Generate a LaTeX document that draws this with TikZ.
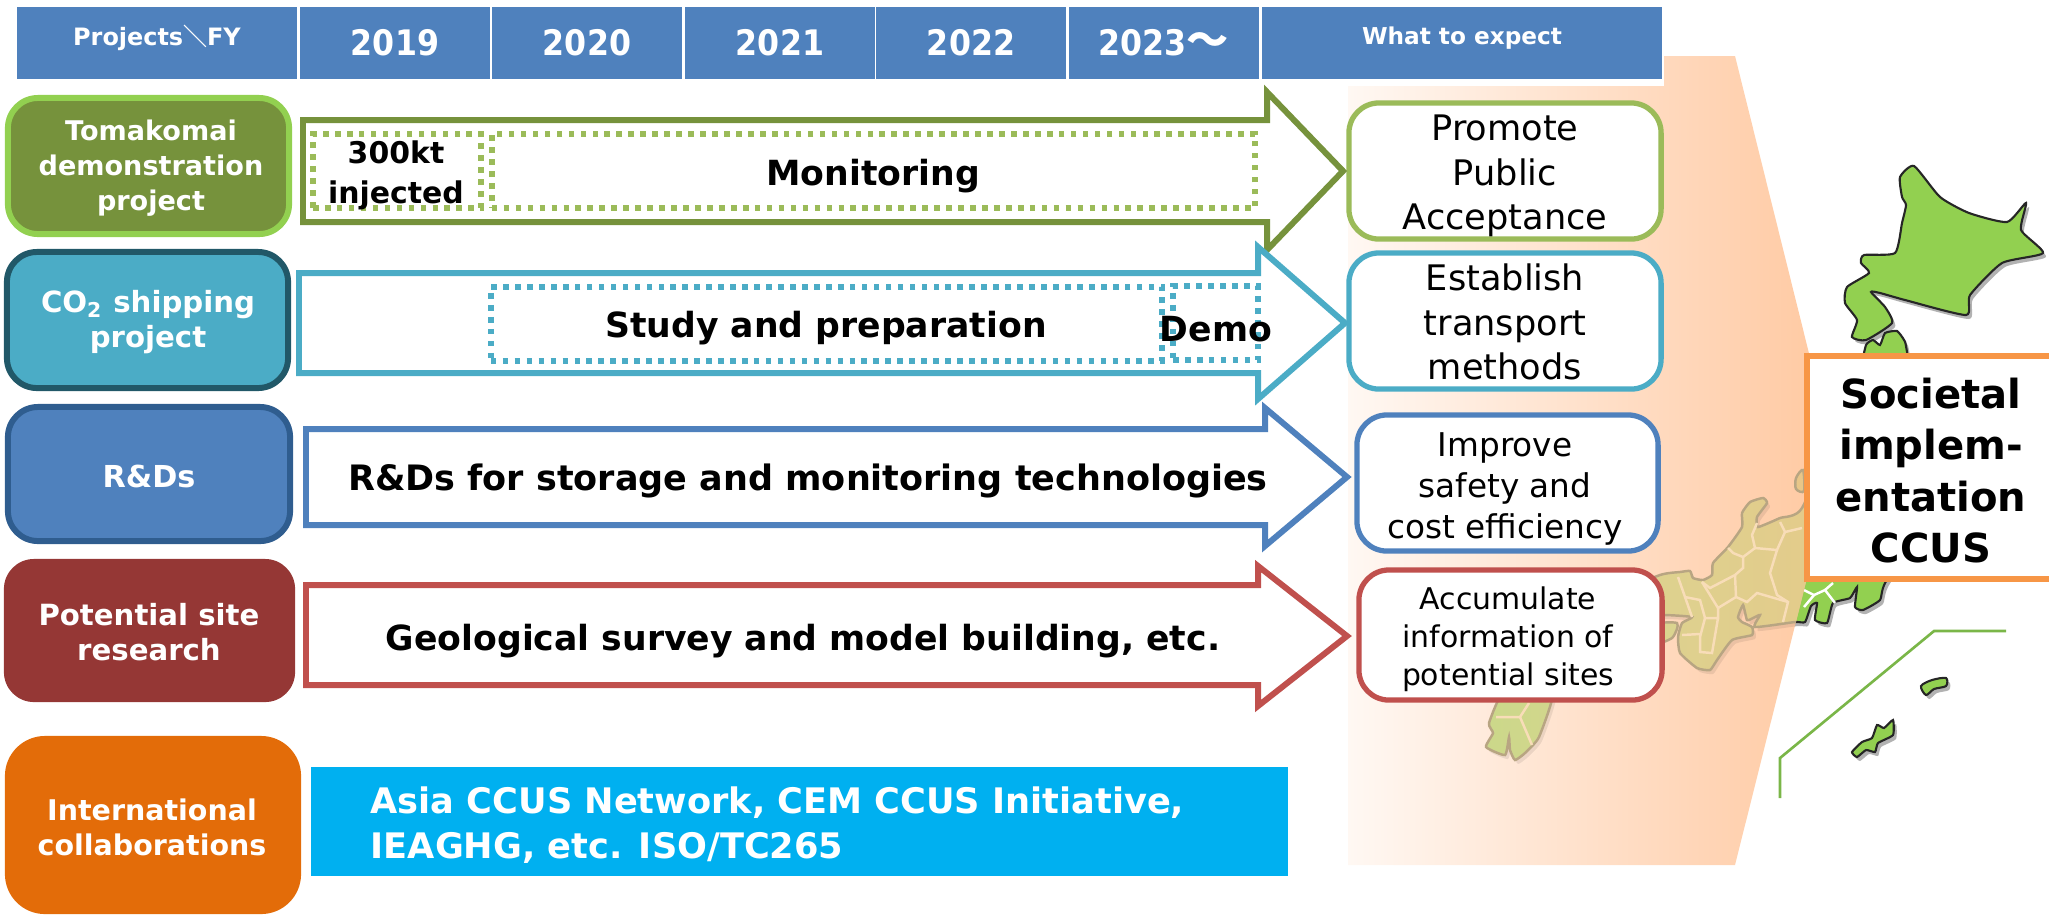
\documentclass[tikz,border=0pt]{standalone}
\usepackage{fontspec}
\setmainfont{DejaVu Sans}
\newfontfamily\jpfont{Noto Sans CJK JP}
\newfontfamily\yearfont{DejaVu Sans Condensed}
\usepackage{tikz}
\usetikzlibrary{positioning}

\definecolor{hdblue}{HTML}{4F81BD}
\definecolor{tomafill}{HTML}{76923C}
\definecolor{tomaline}{HTML}{92D050}
\definecolor{tomadot}{HTML}{9BBB59}
\definecolor{shipfill}{HTML}{4BACC6}
\definecolor{shipline}{HTML}{215868}
\definecolor{rdline}{HTML}{2F5D8F}
\definecolor{sitefill}{HTML}{953735}
\definecolor{siteline}{HTML}{C0504D}
\definecolor{intlfill}{HTML}{E36C09}
\definecolor{barblue}{HTML}{00B0F0}
\definecolor{socline}{HTML}{F79646}
\definecolor{mapgreen}{HTML}{92D050}
\definecolor{insetgreen}{HTML}{7AB648}
\definecolor{peachl}{HTML}{FFF8F3}
\definecolor{peachm}{HTML}{FEE6D6}
\definecolor{peachr}{HTML}{FFC8A0}
\definecolor{tanl}{HTML}{DBD490}
\definecolor{tanr}{HTML}{E8C688}
\definecolor{kyul}{HTML}{CBD88A}
\definecolor{kyur}{HTML}{D2D68C}
\definecolor{tanedge}{HTML}{B8A582}
\definecolor{tanpref}{HTML}{F8DDB8}

\newcommand{\fs}[2]{\fontsize{#1pt}{#2pt}\selectfont}

\tikzset{
    hdcell/.style={fill=hdblue, text=white, font=\bfseries\fs{6.6}{8}, minimum height=0.71cm, inner sep=0pt},
    yearcell/.style={hdcell, minimum width=1.90cm, font=\yearfont\bfseries\fs{10}{12}},
    prjbox/.style={rounded corners=0.3cm, line width=1.7pt, minimum width=2.81cm, minimum height=1.36cm, inner sep=0pt},
    prjtext/.style={text=white, font=\bfseries\fs{#1}{10}, align=center, inner sep=0pt},
    goalbox/.style={rounded corners=0.3cm, fill=white, line width=1.5pt, inner sep=0pt},
    goaltext/.style={align=center, inner sep=0pt},
    dotbox/.style={line width=1.6pt, dash pattern=on 1.6pt off 1.8pt, inner sep=0pt},
    arrowtext/.style={font=\bfseries\fs{9.85}{12}, text=black, inner sep=0pt},
    blockarrow/.style={line width=1.7pt, fill=white, miter limit=10},
    mapedge/.style={draw=black!85, line width=0.6pt},
    mapedgefade/.style={draw=tanedge, line width=0.7pt},
    prefline/.style={draw=white, line width=0.7pt},
    preflinefade/.style={draw=tanpref, line width=0.7pt},
    mapshadow/.style={fill=black, opacity=0.3, shift={(3,4)}},
    fadeshadow/.style={fill=black, opacity=0.08, shift={(3,4)}},
}

\def\hokkaido{plot[smooth cycle, tension=0.35] coordinates {(1914,166) (1900,177) (1902,197) (1906,205) (1902,223) (1895,253) (1864,255) (1861,263) (1869,273) (1847,287) (1845,303) (1857,320) (1852,337) (1866,340) (1892,323) (1885,307) (1871,292) (1880,293) (1905,300) (1966,315) (1970,295) (2002,263) (2043,253) (2021,230) (2026,203) (2007,222) (1969,213) (1940,197)}}
\def\honshu{plot[smooth cycle, tension=0.3] coordinates {(1907,352) (1904,340) (1897,331) (1885,333) (1880,345) (1873,340) (1866,345) (1860,370) (1850,400) (1802,508) (1780,518) (1758,527) (1757,517) (1767,503) (1763,498) (1750,502) (1742,513) (1742,527) (1728,547) (1713,563) (1712,575) (1703,580) (1693,578) (1690,571) (1680,572) (1660,575) (1600,600) (1620,618) (1663,615) (1692,617) (1682,623) (1678,637) (1680,653) (1697,668) (1710,670) (1717,660) (1732,640) (1752,635) (1752,627) (1742,622) (1738,617) (1743,605) (1747,620) (1753,618) (1760,615) (1755,627) (1795,622) (1805,622) (1811,606) (1817,603) (1815,620) (1827,623) (1833,603) (1850,598) (1857,587) (1855,607) (1863,610) (1880,600) (1885,583) (1930,500)}}
\def\kyushu{plot[smooth cycle, tension=0.3] coordinates {(1553,690) (1539,737) (1525,753) (1515,760) (1510,750) (1509,737) (1505,755) (1486,747) (1493,733) (1489,723) (1505,690)}}
\def\sado{plot[smooth cycle, tension=0.5] coordinates {(1803,470) (1796,478) (1796,489) (1804,491)}}
\def\shikoku{plot[smooth cycle, tension=0.4] coordinates {(1650,625) (1677,623) (1672,638) (1650,645)}}
\def\okinawa{plot[smooth cycle, tension=0.3] coordinates {(1893,720) (1884,728) (1877,725) (1872,738) (1862,742) (1852,752) (1857,757) (1866,750) (1875,752) (1878,743) (1893,735)}}
\def\amami{plot[smooth cycle, tension=0.5] coordinates {(1946,678) (1932,680) (1921,686) (1926,695) (1934,689) (1946,686)}}
\def\peach{(1348,86) -- (1664,86) -- (1664,56) -- (1735,56) -- (1836,462) -- (1735,865) -- (1348,865) -- cycle}

\begin{document}
\begin{tikzpicture}[x=0.01cm, y=-0.01cm]
    \useasboundingbox (0,0) rectangle (2049,914);

    % map
    \path[mapshadow] \hokkaido;
    \path[mapshadow] \honshu;
    \path[fill=mapgreen, mapedge] \hokkaido;
    \path[fill=mapgreen, mapedge] \honshu;
    \draw[prefline] (1804,590) -- (1814,595) -- (1825,590) -- (1835,603);
    \draw[prefline] (1825,590) -- (1833,583);
    \draw[prefline] (1814,595) -- (1804,607);
    \path[mapshadow] \amami;
    \path[fill=mapgreen, mapedge] \amami;
    \path[mapshadow] \okinawa;
    \path[fill=mapgreen, mapedge] \okinawa;
    \draw[insetgreen, line width=0.75pt] (2006,631) -- (1934,631) -- (1780,758) -- (1780,798);

    % peach band with the part of the map under it
    \shade[left color=peachl, middle color=peachm, right color=peachr] \peach;
    \begin{scope}
        \clip \peach;
        \path[fadeshadow] \honshu;
        \path[fadeshadow] \kyushu;
        \shade[left color=tanl, right color=tanr, mapedgefade] \honshu;
        \shade[left color=kyul, right color=kyur, mapedgefade] \kyushu;
        \path[fill=tanr, mapedgefade] \sado;
        \path[fill=tanl, mapedgefade] \shikoku;
        \draw[preflinefade] (1780,522) -- (1785,532) -- (1802,528);
        \draw[preflinefade] (1785,532) -- (1777,550) -- (1755,548) -- (1752,535) -- (1757,523);
        \draw[preflinefade] (1777,550) -- (1770,573) -- (1777,595) -- (1788,602) -- (1783,622);
        \draw[preflinefade] (1755,548) -- (1743,557) -- (1733,553) -- (1728,548);
        \draw[preflinefade] (1743,557) -- (1743,568) -- (1735,575) -- (1710,588) -- (1702,582);
        \draw[preflinefade] (1735,575) -- (1736,597) -- (1747,602) -- (1757,593) -- (1788,602);
        \draw[preflinefade] (1702,582) -- (1718,608) -- (1736,597);
        \draw[preflinefade] (1718,608) -- (1718,618) -- (1705,618) -- (1700,637) -- (1700,652) -- (1712,653) -- (1718,618);
        \draw[preflinefade] (1678,577) -- (1692,617);
        \draw[preflinefade] (1685,597) -- (1700,600) -- (1705,618);
        \draw[preflinefade] (1682,635) -- (1700,634);
        \draw[preflinefade] (1496,717) -- (1520,717) -- (1529,703);
        \draw[preflinefade] (1520,717) -- (1532,745);
    \end{scope}

    % header row
    \node[hdcell, minimum width=2.80cm] (hdprj) at (157,43) {\raisebox{1.5mm}{\fs{6.8}{8}Projects{\jpfont ＼}FY}};
    \foreach \yr/\xc in {2019/395,2020/587,2021/780,2022/971} {
        \node[yearcell] (hd\yr) at (\xc,43) {\yr};
    }
    \node[yearcell] (hdlast) at (1164,43) {2023{\jpfont\fs{12}{14}～}\hspace{0.40cm}};
    \node[hdcell, minimum width=3.99cm] (hdgoal) at (1462,43) {\raisebox{1.5mm}{What to expect}};

    % project boxes
    \node[prjbox, fill=tomafill, draw=tomaline] (toma) at (148.5,166) {};
    \node[prjbox, fill=shipfill, draw=shipline] (ship) at (147.5,320) {};
    \node[prjbox, fill=hdblue, draw=rdline, minimum width=2.82cm, minimum height=1.34cm] (rds) at (149,474) {};
    \node[prjbox, fill=sitefill, minimum width=2.91cm, minimum height=1.43cm] (site) at (149.5,630.5) {};
    \node[prjbox, fill=intlfill, minimum width=2.96cm, minimum height=1.78cm, rounded corners=0.4cm] (intl) at (153,825) {};
    \node[prjtext=7.7] (tomatxt) at (151,168) {Tomakomai\\demonstration\\project};
    \node[prjtext=8.3] (shiptxt) at (148,322) {CO\textsubscript{2} shipping\\project};
    \node[prjtext=8.6] (rdstxt) at (149,476) {R\&Ds};
    \node[prjtext=8.3] (sitetxt) at (149,632) {Potential site\\research};
    \node[prjtext=8.1] (intltxt) at (152,827) {International\\collaborations};

    % goal boxes
    \node[goalbox, draw=tomadot, minimum width=3.12cm, minimum height=1.36cm] (gtoma) at (1505,171) {};
    \node[goalbox, draw=shipfill, minimum width=3.12cm, minimum height=1.36cm] (gship) at (1505,321) {};
    \node[goalbox, draw=hdblue, minimum width=3.01cm, minimum height=1.36cm] (grds) at (1507.5,483) {};
    \node[goalbox, draw=siteline, minimum width=3.03cm, minimum height=1.30cm] (gsite) at (1510.5,635) {};
    \node[goaltext, font=\fs{10}{12.6}] (gtomatxt) at (1505,176) {Promote\\Public\\Acceptance};
    \node[goaltext, font=\fs{10}{12.6}] (gshiptxt) at (1505,322) {Establish\\transport\\methods};
    \node[goaltext, font=\fs{9.3}{11.7}] (grdstxt) at (1505,489) {Improve\\safety and\\cost efficiency};
    \node[goaltext, font=\fs{8.5}{10.8}] (gsitetxt) at (1508,639) {Accumulate\\information of\\potential sites};

    % arrows
    \draw[blockarrow, draw=tomafill] (303,120) -- (1267,120) -- (1267,92) -- (1343,171) -- (1267,250) -- (1267,222) -- (303,222) -- cycle;
    \node[dotbox, draw=tomadot, minimum width=1.68cm, minimum height=0.74cm] (inj) at (397,171) {};
    \node[dotbox, draw=tomadot, minimum width=7.63cm, minimum height=0.74cm] (mon) at (873.5,171) {};
    \node[arrowtext, font=\bfseries\fs{8.5}{11.4}, align=center] (injtxt) at (396,175) {300kt\\injected};
    \node[arrowtext] (montxt) at (873,176) {Monitoring};

    \draw[blockarrow, draw=shipfill] (299,273) -- (1258,273) -- (1258,247) -- (1345,323) -- (1258,399) -- (1258,373) -- (299,373) -- cycle;
    \node[dotbox, draw=shipfill, minimum width=6.71cm, minimum height=0.74cm] (study) at (826.5,324) {};
    \node[dotbox, draw=shipfill, minimum width=0.85cm, minimum height=0.74cm] (demo) at (1215.5,323) {};
    \node[arrowtext] (studytxt) at (826,328) {Study and preparation};
    \node[arrowtext] (demotxt) at (1216,329) {Demo};

    \draw[blockarrow, draw=hdblue] (306,429) -- (1265,429) -- (1265,408) -- (1347,477) -- (1265,546) -- (1265,525) -- (306,525) -- cycle;
    \node[arrowtext, font=\bfseries\fs{9.95}{12}] (rdsarrtxt) at (808,481) {R\&Ds for storage and monitoring technologies};

    \draw[blockarrow, draw=siteline] (306,585) -- (1258,585) -- (1258,566) -- (1347,636) -- (1258,706) -- (1258,685) -- (306,685) -- cycle;
    \node[arrowtext] (sitearrtxt) at (803,641) {Geological survey and model building, etc.};

    % collaboration bar
    \node[fill=barblue, minimum width=9.77cm, minimum height=1.09cm, inner sep=0pt] (bar) at (799.5,821.5) {};
    \node[font=\bfseries\fs{10}{12.6}, text=white, align=left, inner sep=0pt, anchor=west] (bartxt) at (370,825) {Asia CCUS Network, CEM CCUS Initiative,\\IEAGHG, etc. ISO/TC265};

    % target box
    \node[draw=socline, fill=white, line width=1.7pt, minimum width=2.60cm, minimum height=2.23cm, inner sep=0pt] (soc) at (1937,467.5) {};
    \node[font=\bfseries\fs{11.4}{14.6}, align=center, inner sep=0pt] (soctxt) at (1931,470.5) {Societal\\implem-\\entation\\CCUS};
\end{tikzpicture}
\end{document}
